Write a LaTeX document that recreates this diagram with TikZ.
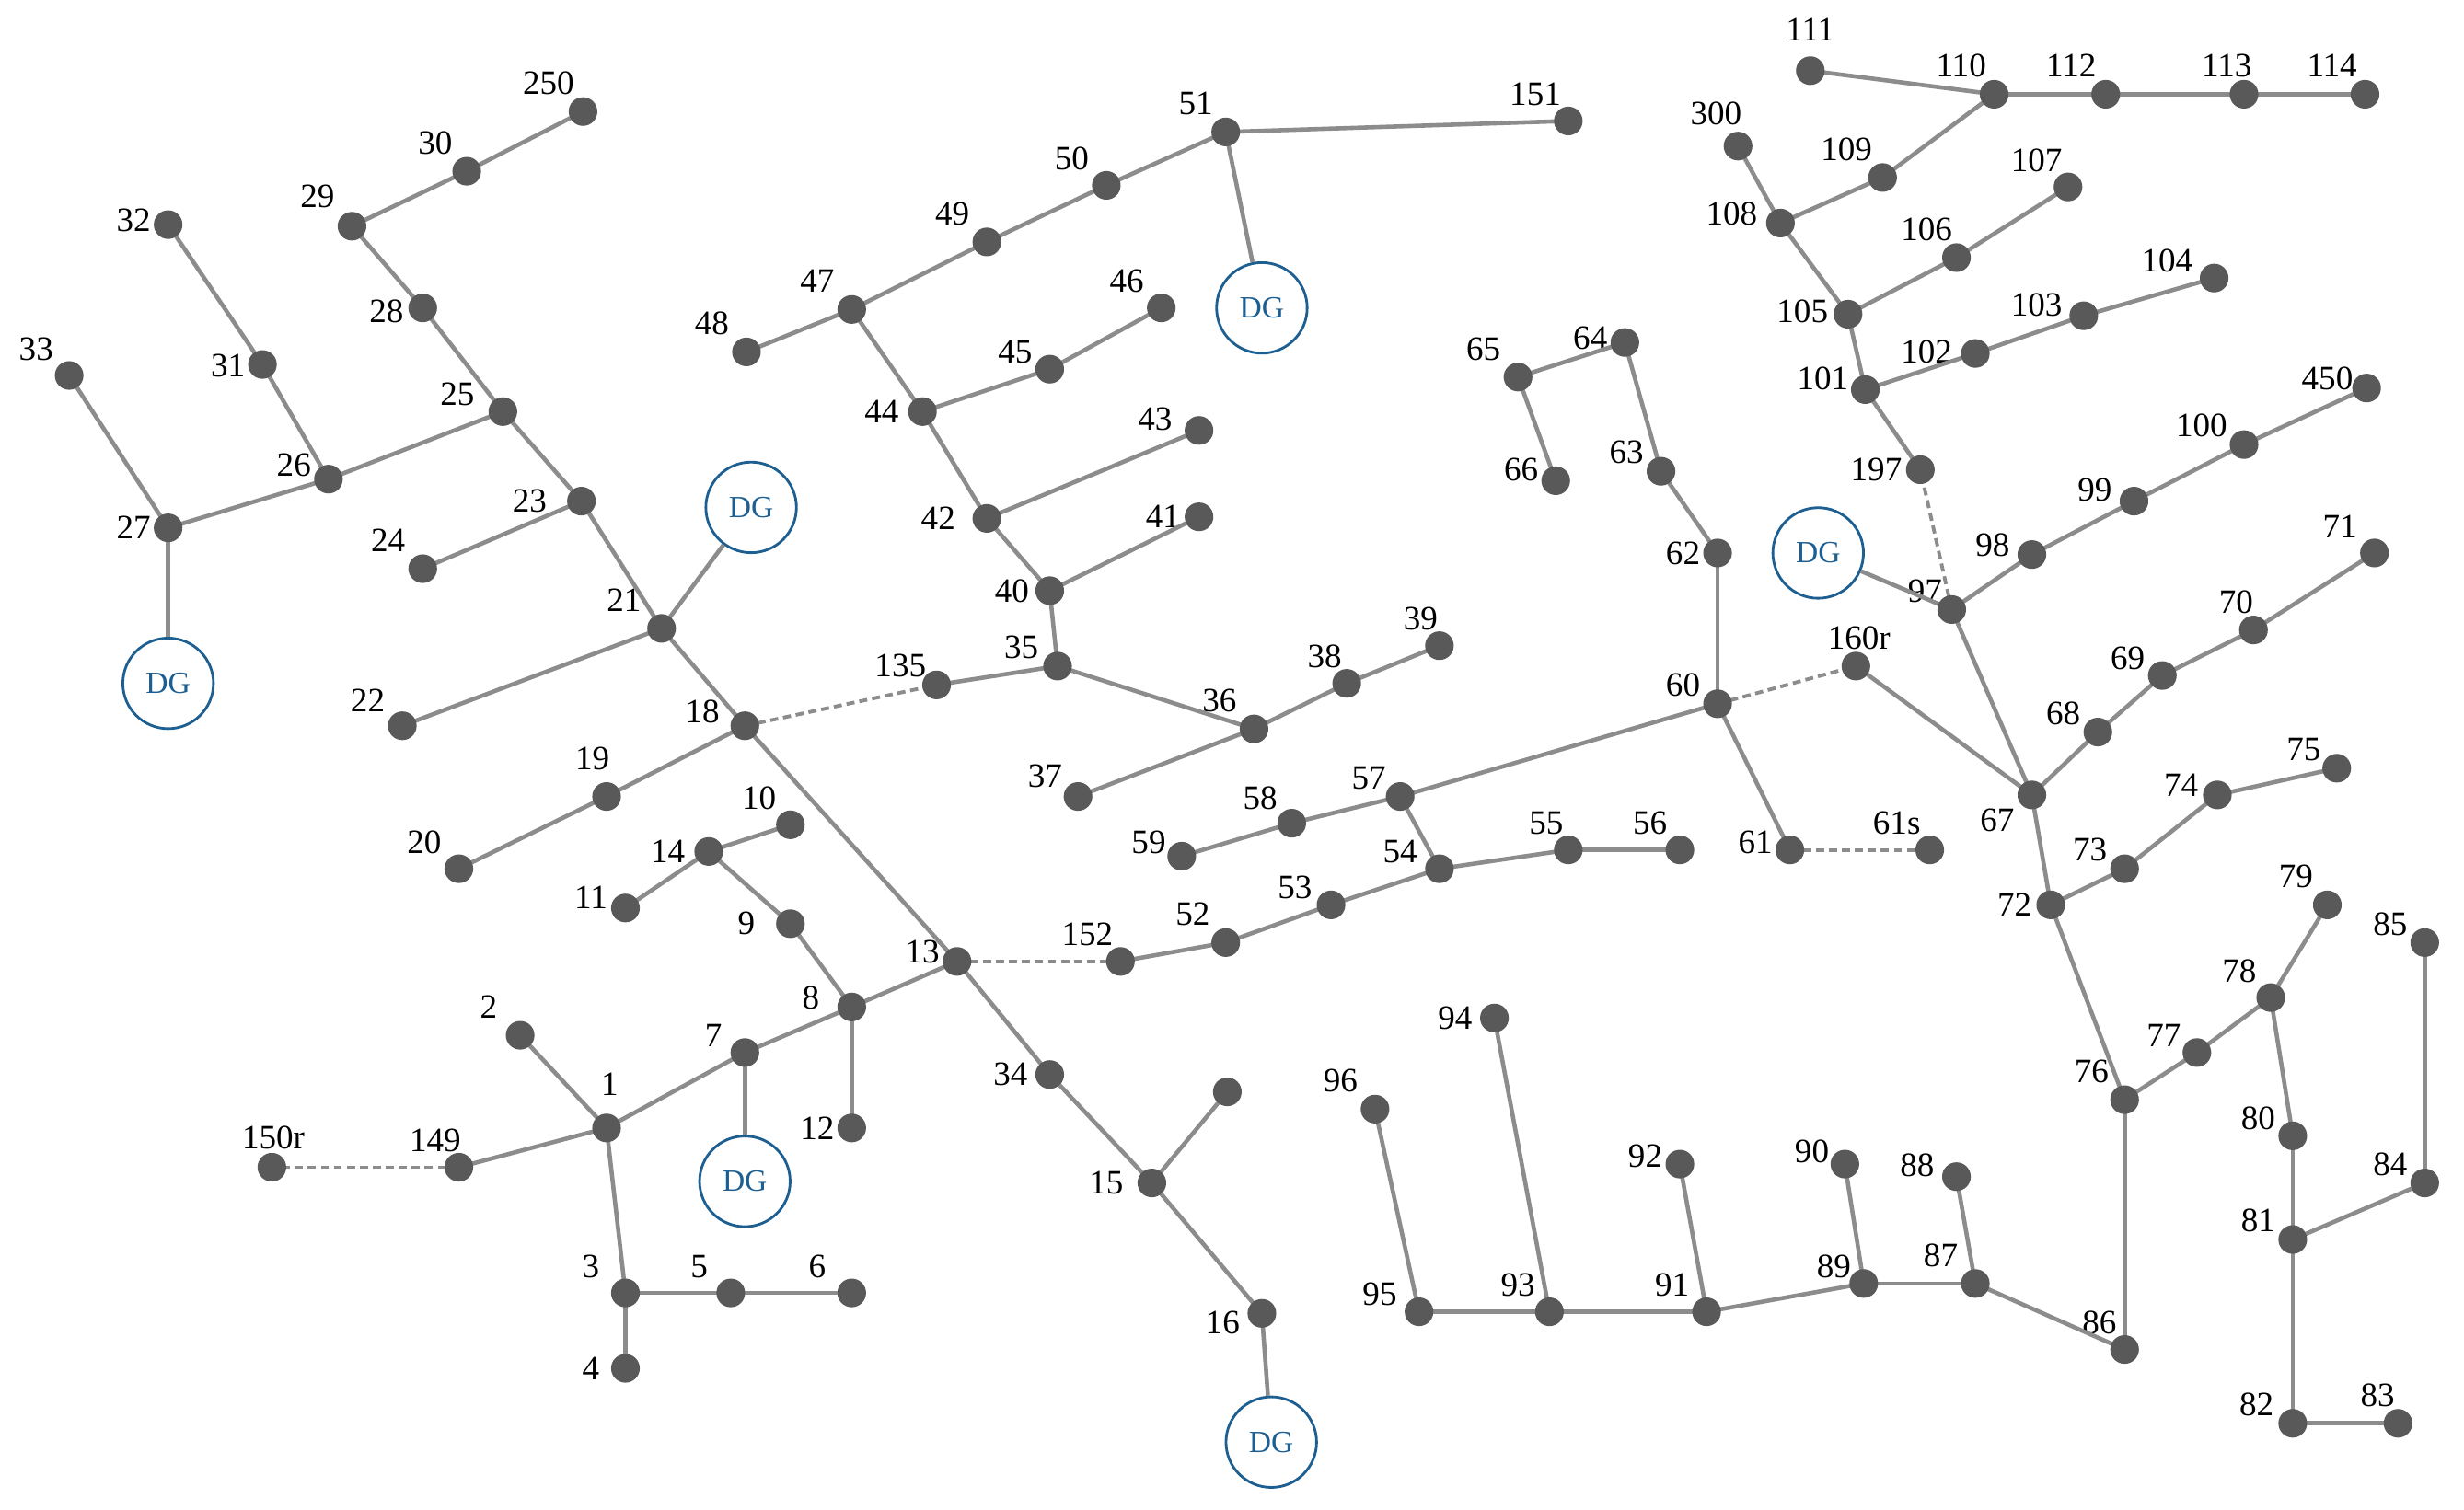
\documentclass[tikz,border=0pt]{standalone}
\usepackage{fontspec}
\setmainfont{Liberation Serif}
\definecolor{dgblue}{RGB}{30,95,145}
\begin{document}
\begin{tikzpicture}[x=0.017cm,y=-0.017cm]
\tikzstyle{bus}=[circle,fill=black!65,draw=none,inner sep=0pt,minimum size=0.31cm]
\tikzstyle{lbl}=[inner sep=0pt,font=\fontsize{10.5}{12}\selectfont]
\tikzstyle{dg}=[circle,draw=dgblue,thick,fill=white,inner sep=0pt,minimum size=0.98cm,text=dgblue,font=\fontsize{9.5}{11}\selectfont]
\tikzstyle{line}=[draw=black!45,line width=1.3pt]
\tikzstyle{tie}=[draw=black!45,line width=1.1pt,dash pattern=on 2.5pt off 1.5pt]
\useasboundingbox (0,0) rectangle (1568,961);
% buses: name/x/y/label x/label y
\foreach \n/\x/\y/\lx/\ly in {
1/386/718/388/690, 2/331/659/311/641, 3/398/823/376/806, 4/398/871/376/871,
5/465/823/445/806, 6/542/823/520/806, 7/474/670/454/659, 8/542/641/516/635,
9/503/588/475/588, 10/503/525/483/508, 11/398/578/376/571, 14/451/542/425/542,
12/542/718/520/718, 13/609/612/587/606, 149/292/743/277/726, 150r/173/743/174/724,
34/668/684/643/684, 15/733/753/704/753, 16/803/836/778/842,
152/713/612/692/595, 52/780/600/759/582, 53/847/576/824/565, 54/916/553/891/542,
55/998/541/984/524, 56/1069/541/1050/524, 57/891/507/871/495, 58/822/524/802/508,
59/752/545/731/536, 60/1093/448/1071/436, 61/1139/541/1117/536, 61s/1228/541/1207/524,
160r/1181/424/1183/406, 18/474/462/447/453, 19/386/507/377/483, 20/292/553/270/536,
21/421/400/397/382, 22/256/462/234/446, 23/370/319/337/319, 24/269/362/247/344,
25/320/262/291/251, 26/209/305/187/296, 27/107/336/85/336, 28/269/196/246/198,
29/224/144/202/125, 30/297/109/277/91, 250/371/71/349/53, 31/167/232/145/233,
32/107/143/85/140, 33/44/239/23/222, 135/596/436/573/424, 35/673/424/650/412,
36/798/464/776/446, 37/686/507/665/494, 38/857/435/843/418, 39/916/411/904/394,
40/668/376/644/376, 41/763/329/740/329, 42/628/330/597/330, 43/763/274/735/267,
44/587/262/561/262, 45/668/235/646/224, 46/739/196/717/179, 47/542/197/520/179,
48/475/224/453/206, 49/628/154/606/136, 50/704/118/682/101, 51/780/84/761/66,
151/998/77/977/60, 62/1093/352/1071/352, 63/1057/300/1035/288, 64/1034/218/1012/215,
65/966/240/944/222, 66/990/306/968/299, 67/1293/506/1271/522, 68/1335/466/1313/454,
69/1376/430/1354/419, 70/1434/401/1423/383, 71/1511/352/1489/335, 72/1305/576/1282/576,
73/1352/553/1330/541, 74/1411/506/1388/500, 75/1487/489/1466/477, 76/1352/700/1331/682,
77/1398/670/1377/659, 78/1445/635/1425/618, 79/1481/576/1461/558, 80/1459/723/1437/712,
81/1459/789/1437/777, 82/1459/906/1436/894, 83/1526/906/1513/888, 84/1543/753/1521/741,
85/1543/600/1521/588, 86/1352/859/1336/842, 87/1257/817/1235/799, 88/1245/749/1220/742,
89/1186/817/1167/806, 90/1174/741/1153/733, 91/1086/835/1064/818, 92/1069/741/1047/736,
93/986/835/966/818, 94/951/648/926/648, 95/903/835/878/824, 96/875/706/853/688,
97/1242/388/1225/376, 98/1293/353/1268/347, 99/1358/319/1333/312, 100/1428/283/1401/271,
450/1506/247/1481/241, 101/1187/248/1160/241, 102/1257/225/1226/224, 103/1326/201/1296/194,
104/1409/177/1379/166, 105/1176/200/1147/198, 106/1245/164/1226/146, 107/1316/119/1296/102,
108/1133/142/1102/136, 109/1198/113/1175/95, 110/1269/60/1248/42, 111/1152/45/1152/19,
112/1340/60/1318/42, 113/1428/60/1417/42, 114/1505/60/1484/42, 300/1106/93/1092/72,
197/1222/299/1194/299}
{
  \coordinate (b\n) at (\x,\y);
  \node[lbl] (l\n) at (\lx,\ly) {\n};
}
\coordinate (bu15) at (781,695);
% DG units
\node[dg] (dg7) at (474,752) {DG};
\node[dg] (dg16) at (809,918) {DG};
\node[dg] (dg27) at (107,435) {DG};
\node[dg] (dg21) at (478,323) {DG};
\node[dg] (dg51) at (803,196) {DG};
\node[dg] (dg97) at (1157,352) {DG};
% lines
\foreach \a/\b in {1/2,1/3,3/4,3/5,5/6,1/7,1/149,7/8,8/9,9/14,14/10,14/11,8/12,8/13,
152/52,52/53,53/54,54/55,55/56,54/57,57/58,58/59,57/60,60/61,160r/67,60/62,62/63,63/64,
64/65,65/66,13/34,34/15,15/16,13/18,18/19,19/20,18/21,135/35,35/36,36/37,36/38,38/39,
35/40,40/41,40/42,42/43,42/44,44/45,45/46,44/47,47/48,47/49,49/50,50/51,51/151,21/22,
21/23,23/24,23/25,25/26,26/27,27/33,26/31,31/32,25/28,28/29,29/30,30/250,97/67,67/72,
67/68,68/69,69/70,70/71,72/73,73/74,74/75,72/76,76/77,77/78,78/79,78/80,80/81,81/82,
82/83,81/84,84/85,76/86,86/87,87/88,87/89,89/90,89/91,91/92,91/93,93/94,93/95,95/96,
97/98,98/99,99/100,100/450,197/101,101/102,102/103,103/104,101/105,105/106,106/107,
105/108,108/300,108/109,109/110,110/111,110/112,112/113,113/114,15/u15}
  \draw[line] (b\a) -- (b\b);
\foreach \a in {7,16,27,21,51,97}
  \draw[line] (b\a) -- (dg\a);
% tie switches
\foreach \a/\b in {149/150r,13/152,61/61s,60/160r,18/135,97/197}
  \draw[tie] (b\a) -- (b\b);
\foreach \n in {1,2,3,4,5,6,7,8,9,10,11,14,12,13,149,150r,34,15,16,152,52,53,54,55,56,
57,58,59,60,61,61s,160r,18,19,20,21,22,23,24,25,26,27,28,29,30,250,31,32,33,135,35,36,
37,38,39,40,41,42,43,44,45,46,47,48,49,50,51,151,62,63,64,65,66,67,68,69,70,71,72,73,
74,75,76,77,78,79,80,81,82,83,84,85,86,87,88,89,90,91,92,93,94,95,96,97,98,99,100,450,
101,102,103,104,105,106,107,108,109,110,111,112,113,114,300,197,u15}
  \node[bus] (n\n) at (b\n) {};
\end{tikzpicture}
\end{document}
